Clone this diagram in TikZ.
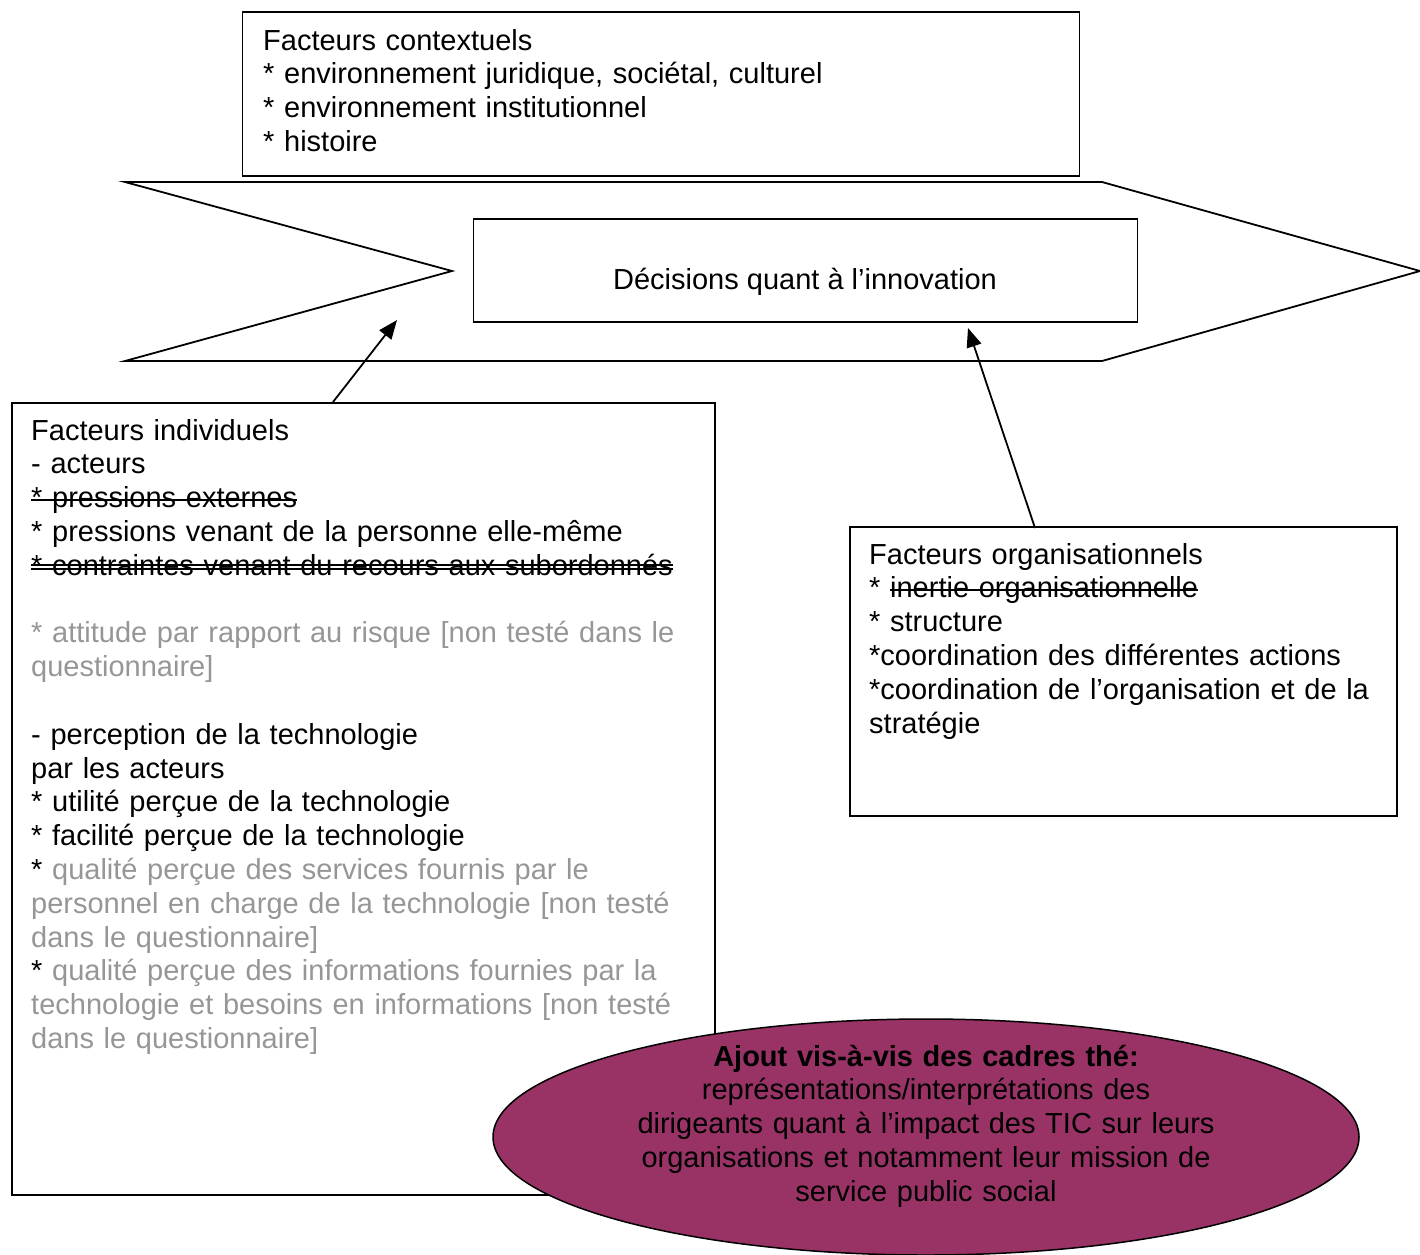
\documentclass[tikz,border=0pt]{standalone}
\usepackage{fontspec}
\setmainfont{Liberation Sans}
\usetikzlibrary{arrows.meta,shapes.geometric}
\definecolor{plum}{HTML}{993366}
\definecolor{greytext}{RGB}{150,150,150}
\newsavebox\strikebox
\newcommand\strikeone[1]{\leavevmode\sbox\strikebox{#1}\rlap{\rule[0.24em]{\wd\strikebox}{0.07em}}\usebox\strikebox}
\newcommand\striketwo[1]{\leavevmode\sbox\strikebox{#1}\rlap{\rule[0.19em]{\wd\strikebox}{0.045em}}\rlap{\rule[0.33em]{\wd\strikebox}{0.045em}}\usebox\strikebox}
\begin{document}
\begin{tikzpicture}[x=1pt,y=-1pt,
  boxline/.style={draw=black,line width=1.8pt},
  framebox/.style={boxline,rectangle,inner sep=0pt,anchor=north west},
  txtblock/.style={font=\fontsize{29}{33.8}\selectfont,inner sep=0pt,align=left,text width=#1,anchor=base west},
  conn/.style={line width=1.8pt,-{Triangle[length=19pt,width=15pt]}}]
\useasboundingbox (0,0) rectangle (1420,1254);

% context box
\node[framebox,minimum width=837,minimum height=164] (ctx) at (241.5,11) {};
\node[txtblock=800] (ctxtxt) at (263,50) {Facteurs contextuels\\
\relax* environnement juridique, sociétal, culturel\\
\relax* environnement institutionnel\\
\relax* histoire};

% big arrow shape
\draw[boxline] (125,182) -- (1102,182) -- (1420,271) -- (1102,361) -- (125,361) -- (452,271) -- cycle;

% decision box
\node[framebox,minimum width=664,minimum height=103] (dec) at (472.5,218) {};
\node[font=\fontsize{29}{33.8}\selectfont,inner sep=0pt,anchor=base] (dectxt) at (805,289) {Décisions quant à l’innovation};

% individual factors box
\node[framebox,minimum width=703,minimum height=792] (ind) at (11,402) {};
\node[txtblock=690] (indtxt) at (31,440) {Facteurs individuels\\
- acteurs\\
\strikeone{* pressions externes}\\
\relax* pressions venant de la personne elle-même\\
\striketwo{* contraintes venant du recours aux subordonnés}\\
\mbox{}\\
\textcolor{greytext}{* attitude par rapport au risque [non testé dans le}\\
\textcolor{greytext}{questionnaire]}\\
\mbox{}\\
- perception de la technologie\\
par les acteurs\\
\relax* utilité perçue de la technologie\\
\relax* facilité perçue de la technologie\\
\relax* \textcolor{greytext}{qualité perçue des services fournis par le}\\
\textcolor{greytext}{personnel en charge de la technologie [non testé}\\
\textcolor{greytext}{dans le questionnaire]}\\
\relax* \textcolor{greytext}{qualité perçue des informations fournies par la}\\
\textcolor{greytext}{technologie et besoins en informations [non testé}\\
\textcolor{greytext}{dans le questionnaire]}};

% organisational factors box
\node[framebox,minimum width=547,minimum height=289] (org) at (849,526) {};
\node[txtblock=540] (orgtxt) at (869,564) {Facteurs organisationnels\\
\relax* \strikeone{inertie organisationnelle}\\
\relax* structure\\
\relax*coordination des différentes actions\\
\relax*coordination de l’organisation et de la\\
stratégie};

% ellipse
\node[ellipse,draw=black,line width=1.5pt,fill=plum,minimum width=866,minimum height=236,inner sep=0pt] (ajout) at (926,1137) {};
\node[font=\fontsize{29}{33.8}\selectfont,inner sep=0pt,align=center,text width=760,anchor=base] (ajouttxt) at (926,1066) {\textbf{Ajout vis-à-vis des cadres thé:}\\
représentations/interprétations des\\
dirigeants quant à l’impact des TIC sur leurs\\
organisations et notamment leur mission de\\
service public social};

% connectors
\coordinate (a1s) at (333,402);
\coordinate (a1e) at (397,320);
\coordinate (a2s) at (1035,528);
\coordinate (a2e) at (968,328);
\draw[conn] (a1s) -- (a1e);
\draw[conn] (a2s) -- (a2e);
\end{tikzpicture}
\end{document}
